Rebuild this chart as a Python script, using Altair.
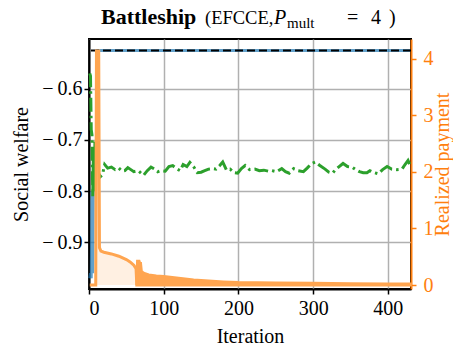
import altair as alt
import pandas as pd

# ---------------- data ----------------
blue_iter = [1, 2, 3, 4, 5, 6, 7, 8, 9, 10, 11, 12, 100, 200, 300, 430]
blue_welfare = [-0.97, -0.96, -0.97, -0.80, -0.96, -0.74, -0.72, -0.75, -0.73, -0.74, -0.72,
                -0.5255, -0.5255, -0.5255, -0.5255, -0.5255]

optimum_welfare = [-0.5255]

green_iter = [1, 2, 3, 4, 5, 6, 7, 8, 9, 10, 12, 15, 18, 21, 25, 30, 35, 40, 44, 48, 52, 56, 60, 66,
              73, 78, 83, 88, 92, 96, 102, 107, 112, 117, 122, 126, 131, 135, 140, 145, 150, 155,
              160, 165, 170, 175, 179, 184, 189, 194, 199, 204, 209, 215, 222, 228, 234, 240, 245,
              251, 258, 263, 268, 274, 280, 287, 292, 298, 303, 309, 316, 321, 326, 330, 334, 340,
              346, 352, 357, 362, 367, 372, 376, 382, 387, 393, 399, 405, 412, 419, 423, 427, 430]
green_welfare = [-0.57, -0.575, -0.68, -0.69, -0.81, -0.72, -0.80, -0.70, -0.79, -0.76, -0.762,
                 -0.772, -0.768, -0.748, -0.755, -0.753, -0.758, -0.755, -0.761, -0.760, -0.754,
                 -0.758, -0.762, -0.760, -0.769, -0.760, -0.753, -0.757, -0.762, -0.760, -0.761,
                 -0.752, -0.750, -0.756, -0.760, -0.748, -0.752, -0.744, -0.752, -0.764, -0.763,
                 -0.760, -0.757, -0.756, -0.757, -0.750, -0.743, -0.759, -0.757, -0.764, -0.765,
                 -0.756, -0.750, -0.758, -0.757, -0.760, -0.759, -0.761, -0.760, -0.762, -0.756,
                 -0.762, -0.765, -0.756, -0.760, -0.762, -0.755, -0.746, -0.743, -0.750, -0.757,
                 -0.763, -0.765, -0.758, -0.753, -0.746, -0.752, -0.753, -0.758, -0.762, -0.764,
                 -0.764, -0.760, -0.764, -0.766, -0.758, -0.752, -0.757, -0.758, -0.757, -0.748,
                 -0.740, -0.750]

pay_iter = [1, 9, 10, 13, 14, 16, 20, 30, 40, 50, 55, 60, 63, 64]
pay_value = [0.0, 0.0, 4.14, 4.14, 0.66, 0.60, 0.58, 0.55, 0.51, 0.45, 0.41, 0.35, 0.29, 0.0]

tail_iter = [64, 65, 67, 68, 69, 70, 72, 75, 80, 90, 100, 120, 140, 160, 180, 200, 250, 300,
             350, 400, 430]
tail_value = [0.0, 0.42, 0.42, 0.38, 0.38, 0.25, 0.22, 0.20, 0.18, 0.16, 0.15, 0.12, 0.09, 0.07,
              0.055, 0.045, 0.035, 0.03, 0.025, 0.02, 0.02]

x_ticks = [0, 100, 200, 300, 400]
left_ticks = [-0.9, -0.8, -0.7, -0.6]
right_ticks = [0, 1, 2, 3, 4]

# ---------------- style ----------------
FONT = "Liberation Serif"
ORANGE = "#ff7f0e"
ORANGE_LINE = "#ffa550"
ORANGE_FILL = "#fff0e2"
BLUE = "#1f77b4"
GREEN = "#2ca02c"

blue_df = pd.DataFrame({"it": blue_iter, "v": blue_welfare})
opt_df = pd.DataFrame({"v": optimum_welfare})
green_df = pd.DataFrame({"it": green_iter, "v": green_welfare})
pay_df = pd.DataFrame({"it": pay_iter, "p": pay_value})
tail_df = pd.DataFrame({"it": tail_iter, "p": tail_value})

x_enc = alt.X(
    "it:Q",
    scale=alt.Scale(domain=[0, 431], nice=False, zero=False),
    axis=alt.Axis(
        values=x_ticks, title="Iteration", titleFontSize=20, titleFont=FONT,
        titleFontWeight="normal", titleColor="black", titleY=53, titleBaseline="alphabetic",
        labelFont=FONT, labelFontSize=20, labelColor="black", labelPadding=4,
        domainColor="black", domainWidth=2, tickColor="black", tickWidth=1.5, tickSize=5,
        grid=True, gridColor="#b0b0b0", gridWidth=1.5,
    ),
)

left_scale = alt.Scale(domain=[-0.991, -0.503], nice=False, zero=False)
left_axis = alt.Axis(
    values=left_ticks, format=".1f", labelExpr="replace(datum.label, '\u2212', '\u2212\u2009')",
    title="Social welfare", titleFontSize=20, titleFont=FONT,
    titleFontWeight="normal", titleColor="black", titleX=-62, titleY=125, titleAngle=270,
    titleBaseline="alphabetic", titleAlign="center",
    labelFont=FONT, labelFontSize=20, labelColor="black", labelPadding=2,
    domainColor="black", domainWidth=2, tickColor="black", tickWidth=1.5, tickSize=5,
    grid=True, gridColor="#b0b0b0", gridWidth=1.5,
)
yL = alt.Y("v:Q", scale=left_scale, axis=left_axis)

right_scale = alt.Scale(domain=[-0.07, 4.35], nice=False, zero=False)
right_axis = alt.Axis(
    orient="right", values=right_ticks, format="d", title="Realized payment", titleFontSize=20,
    titleFont=FONT, titleFontWeight="normal", titleColor=ORANGE, titleX=37, titleY=125,
    titleAngle=270, titleBaseline="alphabetic", titleAlign="center",
    labelFont=FONT, labelFontSize=20, labelColor=ORANGE, labelPadding=7,
    domainColor=ORANGE, domainWidth=2, tickColor=ORANGE, tickWidth=1.5, tickSize=5, grid=False,
)
yR = alt.Y("p:Q", scale=right_scale, axis=right_axis)

blue = alt.Chart(blue_df).mark_line(color=BLUE, strokeWidth=3, opacity=0.7).encode(x=x_enc, y=yL)
green = alt.Chart(green_df).mark_line(
    color=GREEN, strokeWidth=3, strokeDash=[14, 4, 2.5, 4]
).encode(x=x_enc, y=yL)
opt = alt.Chart(opt_df).mark_rule(color="black", strokeWidth=2, strokeDash=[8, 4]).encode(y=yL)

left = alt.layer(blue, opt, green)

fill = alt.Chart(pay_df).mark_area(color=ORANGE_FILL, opacity=1).encode(
    x=x_enc, y=yR, y2=alt.datum(0)
)
pay_line = alt.Chart(pay_df).mark_line(color=ORANGE_LINE, strokeWidth=3).encode(x=x_enc, y=yR)
tail = alt.Chart(tail_df).mark_area(
    color=ORANGE_LINE, stroke=ORANGE_LINE, strokeWidth=3, opacity=1
).encode(x=x_enc, y=yR, y2=alt.datum(0))

right = alt.layer(fill, pay_line, tail)

# ---------------- title pieces (rich text) ----------------
def title_piece(text, x, y, size=19, weight="normal", style="normal"):
    return alt.Chart(pd.DataFrame({"t": [text]})).mark_text(
        font=FONT, fontSize=size, fontWeight=weight, fontStyle=style, align="left",
        baseline="alphabetic", color="black",
    ).encode(text="t:N", x=alt.value(x), y=alt.value(y))

title = alt.layer(
    title_piece("Battleship", 12, -15, size=22, weight="bold"),
    title_piece("(EFCCE,", 116, -15, size=18.5),
    title_piece("P", 185, -15, size=20, style="italic"),
    title_piece("mult", 198, -11, size=15),
    title_piece("=", 258, -15, size=20),
    title_piece("4", 282, -15, size=20),
    title_piece(")", 300, -15, size=20),
)

chart = alt.layer(left, right, title).resolve_scale(y="independent").properties(
    width=322, height=250,
    autosize=alt.AutoSizeParams(type="none"),
    padding={"left": 81, "top": 31, "right": 42, "bottom": 56},
).configure_view(stroke="black", strokeWidth=2)

chart.save("out.html", embed_options={"renderer": "svg", "actions": False})
